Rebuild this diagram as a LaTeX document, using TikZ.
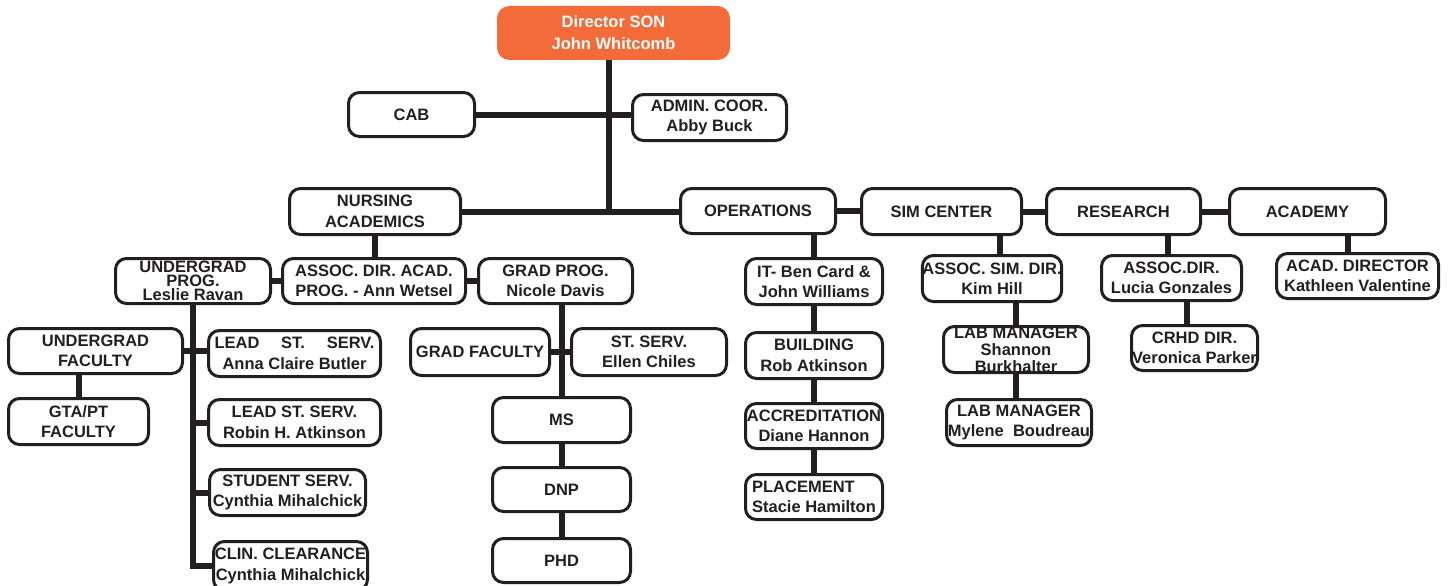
\documentclass[tikz,border=0pt]{standalone}
\usepackage{fontspec}
\setmainfont{Liberation Sans}
\usetikzlibrary{backgrounds}
\definecolor{ink}{HTML}{231F20}
\definecolor{sonorange}{HTML}{F26B38}
\tikzset{
  box/.style={draw=ink, line width=3pt, rounded corners=11pt, fill=white, inner sep=0pt,
    align=center, text=ink, font=\fontsize{16.5}{20.5}\selectfont\bfseries},
  topbox/.style={draw=sonorange, fill=sonorange, text=white, font=\fontsize{16.5}{22}\selectfont\bfseries},
  tight/.style={font=\fontsize{16.5}{14}\selectfont\bfseries},
  semitight/.style={font=\fontsize{16.5}{17}\selectfont\bfseries},
  link/.style={draw=ink, line width=6pt},
}
\newcommand\orgbox[7][]{\node[box,#1,minimum width={#5-#3-3},minimum height={#6-#4-3}] (#2) at ({(#3+#5)/2},{(#4+#6)/2}) {#7};}
\begin{document}
\begin{tikzpicture}[x=1pt,y=-1pt]
\useasboundingbox (0,0) rectangle (1453,586);
\orgbox[topbox]{dir}{497}{6}{730}{60}{Director SON\\John Whitcomb}
\orgbox{cab}{347}{91}{476}{138}{CAB}
\orgbox{admin}{631}{93}{788}{142}{ADMIN. COOR.\\Abby Buck}
\orgbox{nurs}{288}{187}{462}{236}{NURSING\\ACADEMICS}
\orgbox{ops}{679}{187}{837}{235}{OPERATIONS}
\orgbox{sim}{860}{187}{1023}{236}{SIM CENTER}
\orgbox{res}{1045}{187}{1202}{236}{RESEARCH}
\orgbox{acad}{1228}{187}{1387}{236}{ACADEMY}
\orgbox[tight]{ugprog}{114}{257}{272}{305}{UNDERGRAD\\PROG.\\Leslie Ravan}
\orgbox{assoc}{281}{257}{467}{305}{ASSOC. DIR. ACAD.\\PROG. - Ann Wetsel}
\orgbox{gradprog}{477}{257}{634}{305}{GRAD PROG.\\Nicole Davis}
\orgbox{ugfac}{7}{327}{184}{375}{UNDERGRAD\\FACULTY}
\orgbox{gta}{7}{397}{150}{446}{GTA/PT\\FACULTY}
\orgbox{leadA}{207}{329}{382}{378}{\makebox[160pt][s]{LEAD ST. SERV.}\\Anna Claire Butler}
\orgbox{leadB}{207}{398}{382}{447}{LEAD ST. SERV.\\Robin H. Atkinson}
\orgbox{stud}{208}{468}{367}{517}{STUDENT SERV.\\Cynthia Mihalchick}
\orgbox{clin}{212}{540}{369}{592}{CLIN. CLEARANCE\\Cynthia Mihalchick}
\orgbox{gradfac}{409}{327}{551}{377}{GRAD FACULTY}
\orgbox{stserv}{570}{327}{728}{377}{ST. SERV.\\Ellen Chiles}
\orgbox{ms}{491}{396}{632}{444}{MS}
\orgbox{dnp}{491}{466}{632}{513}{DNP}
\orgbox{phd}{491}{537}{632}{584}{PHD}
\orgbox{it}{744}{257}{884}{306}{IT- Ben Card \&\\John Williams}
\orgbox{bldg}{744}{331}{884}{380}{BUILDING\\Rob Atkinson}
\orgbox{accr}{744}{402}{884}{450}{ACCREDITATION\\Diane Hannon}
\orgbox[align=left]{place}{744}{473}{884}{521}{PLACEMENT\\Stacie Hamilton}
\orgbox{simdir}{922}{254}{1062}{303}{ASSOC. SIM. DIR.\\Kim Hill}
\orgbox[semitight]{labA}{942}{325}{1090}{374}{LAB MANAGER\\Shannon\\Burkhalter}
\orgbox{labB}{945}{398}{1093}{447}{LAB MANAGER\\Mylene~ Boudreau}
\orgbox{rdir}{1100}{254}{1243}{302}{ASSOC.DIR.\\Lucia Gonzales}
\orgbox{crhd}{1130}{324}{1259}{372}{CRHD DIR.\\Veronica Parker}
\orgbox{acaddir}{1275}{252}{1440}{300}{ACAD. DIRECTOR\\Kathleen Valentine}
\begin{scope}[on background layer]
\coordinate (trunk) at (609,210);
\coordinate (simdrop) at (1000,0);
\coordinate (resdrop) at (1168,0);
\coordinate (crhddrop) at (1187,0);
\coordinate (acaddrop) at (1348,0);
\draw[link] (trunk |- dir.south) -- (trunk);
\draw[link] (cab.east) -- (cab.east -| admin.west);
\draw[link] (nurs.east) -- (nurs.east -| ops.west);
\draw[link] (ops.east) -- (ops.east -| sim.west);
\draw[link] (sim.east) -- (sim.east -| res.west);
\draw[link] (res.east) -- (res.east -| acad.west);
\draw[link] (nurs.south) -- (nurs.south |- assoc.north);
\draw[link] (ugprog.east) -- (ugprog.east -| assoc.west);
\draw[link] (assoc.east) -- (assoc.east -| gradprog.west);
\draw[link] (ugprog.south) -- (ugprog.south |- clin.west) -- (clin.west);
\draw[link] (ugfac.east) -- (ugfac.east -| leadA.west);
\draw[link] (ugprog.south |- leadB.west) -- (leadB.west);
\draw[link] (ugprog.south |- stud.west) -- (stud.west);
\draw[link] (gta.north) -- (gta.north |- ugfac.south);
\draw[link] (gradprog.south -| ms.north) -- (ms.north);
\draw[link] (gradfac.east) -- (gradfac.east -| stserv.west);
\draw[link] (ms) -- (dnp);
\draw[link] (dnp) -- (phd);
\draw[link] (ops.south -| it.north) -- (it.north);
\draw[link] (it) -- (bldg);
\draw[link] (bldg) -- (accr);
\draw[link] (accr) -- (place);
\draw[link] (sim.south -| simdrop) -- (simdir.north -| simdrop);
\draw[link] (labA.north) -- (labA.north |- simdir.south);
\draw[link] (labA.south) -- (labA.south |- labB.north);
\draw[link] (res.south -| resdrop) -- (rdir.north -| resdrop);
\draw[link] (rdir.south -| crhddrop) -- (crhd.north -| crhddrop);
\draw[link] (acad.south -| acaddrop) -- (acaddir.north -| acaddrop);
\end{scope}
\end{tikzpicture}
\end{document}
